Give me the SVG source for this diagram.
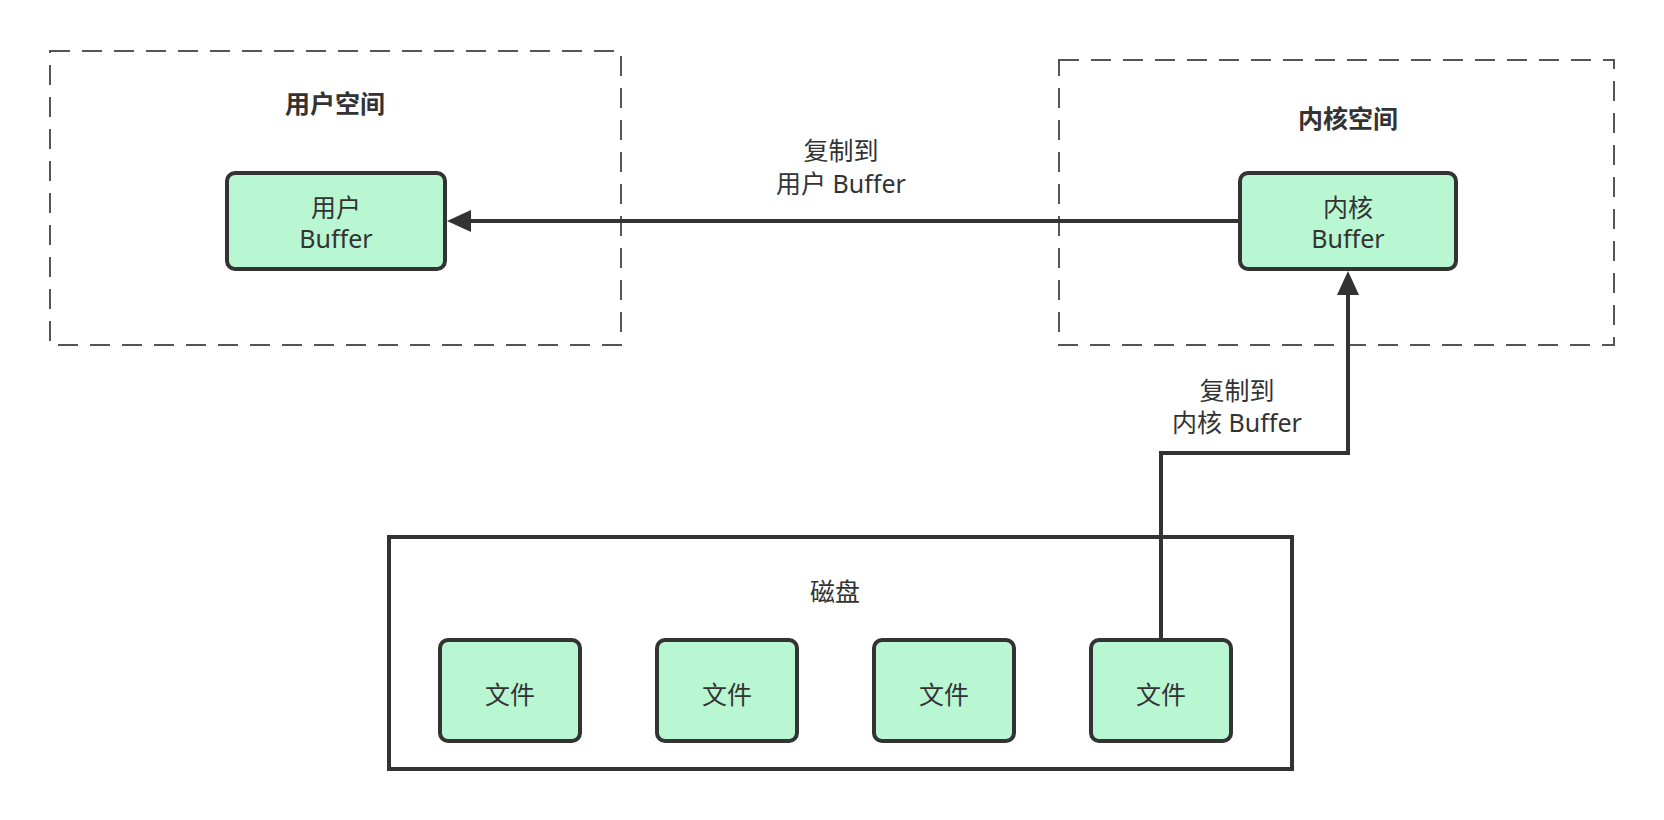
<svg xmlns="http://www.w3.org/2000/svg" width="1664" height="820" viewBox="0 0 1664 820">
<style>
text{font-family:"Noto Sans","Noto Sans CJK SC",sans-serif;font-size:25px;fill:#333;text-anchor:middle}
.title{font-weight:bold}
.space{fill:none;stroke:#555;stroke-width:2;stroke-dasharray:20 12}
.node{fill:#b9f7d3;stroke:#333;stroke-width:4}
.disk{fill:#fff;stroke:#333;stroke-width:4}
.conn{fill:none;stroke:#333;stroke-width:4}
</style>
<defs>
<marker id="arr" viewBox="0 0 24 22" markerUnits="userSpaceOnUse" markerWidth="24" markerHeight="22" refX="14" refY="11" orient="auto">
<path d="M0,0 L24,11 L0,22 Z" fill="#333"/>
</marker>
</defs>
<g id="user-space">
<rect class="space" x="50" y="51" width="571" height="294"/>
<text class="title" x="335" y="113">用户空间</text>
</g>
<g id="kernel-space">
<rect class="space" x="1059" y="60" width="555" height="285"/>
<text class="title" x="1348" y="128">内核空间</text>
</g>
<g id="user-buffer">
<rect class="node" x="227" y="173" width="218" height="96" rx="8"/>
<text x="336" y="217">用户</text>
<text x="336" y="248">Buffer</text>
</g>
<g id="kernel-buffer">
<rect class="node" x="1240" y="173" width="216" height="96" rx="8"/>
<text x="1348" y="217">内核</text>
<text x="1348" y="248">Buffer</text>
</g>
<g id="disk">
<rect class="disk" x="389" y="537" width="903" height="232"/>
<text x="835" y="601">磁盘</text>
</g>
<g id="file1">
<rect class="node" x="440" y="640" width="140" height="101" rx="8"/>
<text x="510" y="704">文件</text>
</g>
<g id="file2">
<rect class="node" x="657" y="640" width="140" height="101" rx="8"/>
<text x="727" y="704">文件</text>
</g>
<g id="file3">
<rect class="node" x="874" y="640" width="140" height="101" rx="8"/>
<text x="944" y="704">文件</text>
</g>
<g id="file4">
<rect class="node" x="1091" y="640" width="140" height="101" rx="8"/>
<text x="1161" y="704">文件</text>
</g>
<g id="connectors">
<path class="conn" d="M1240,221 H457" marker-end="url(#arr)"/>
<text x="841" y="160">复制到</text>
<text x="841" y="193">用户 Buffer</text>
<path class="conn" d="M1161,640 V453 H1348 V281" marker-end="url(#arr)"/>
<text x="1237" y="400">复制到</text>
<text x="1237" y="432">内核 Buffer</text>
</g>
</svg>
